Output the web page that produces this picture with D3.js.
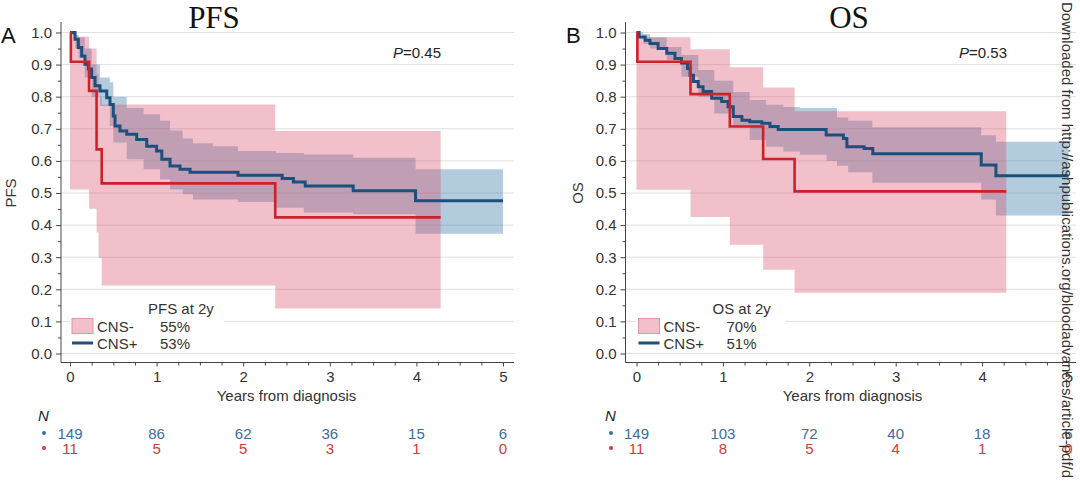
<!DOCTYPE html>
<html><head><meta charset="utf-8">
<script src="https://cdn.jsdelivr.net/npm/d3@7"></script>
<style>html,body{margin:0;padding:0;background:#fff;}svg{display:block;}</style>
</head><body>
<svg id="c" width="1080" height="487"></svg>
<script>
// ---------- DATA ----------
const xTicks = [0, 1, 2, 3, 4, 5];
const yTicks = [0, 0.1, 0.2, 0.3, 0.4, 0.5, 0.6, 0.7, 0.8, 0.9, 1.0];

// PFS (panel A)
const pfsBlueT = [0, 0.058, 0.096, 0.135, 0.173, 0.212, 0.25, 0.289, 0.346, 0.424, 0.462, 0.5, 0.52, 0.577, 0.655, 0.77, 0.886, 1.0, 1.06, 1.155, 1.27, 1.386, 1.94, 2.45, 2.58, 2.716, 3.27, 3.99];
const pfsBlueS = [1.0, 0.979, 0.953, 0.927, 0.901, 0.886, 0.86, 0.834, 0.818, 0.797, 0.776, 0.74, 0.709, 0.693, 0.683, 0.667, 0.646, 0.631, 0.605, 0.584, 0.574, 0.565, 0.555, 0.545, 0.534, 0.522, 0.507, 0.476];
const pfsBlueEnd = 5.0;
const pfsBlueBandT = [0, 0.06, 0.1, 0.17, 0.25, 0.346, 0.46, 0.5, 0.655, 0.85, 1.04, 1.155, 1.3, 1.42, 1.65, 1.94, 2.38, 2.7, 3.27, 3.99];
const pfsBlueLo   = [0.99, 0.95, 0.92, 0.86, 0.80, 0.771, 0.709, 0.657, 0.605, 0.574, 0.543, 0.511, 0.496, 0.48, 0.48, 0.472, 0.454, 0.439, 0.434, 0.373];
const pfsBlueHi   = [1.0, 0.992, 0.985, 0.95, 0.90, 0.86, 0.845, 0.80, 0.765, 0.745, 0.725, 0.695, 0.67, 0.655, 0.646, 0.631, 0.625, 0.62, 0.61, 0.574];
const pfsRedT = [0, 0.01, 0.22, 0.307, 0.366, 2.37];
const pfsRedS = [1.0, 0.909, 0.818, 0.636, 0.53, 0.424];
const pfsRedEnd = 4.28;
const pfsRedBandT = [0, 0.22, 0.307, 0.33, 0.366, 2.37];
const pfsRedLo   = [0.511, 0.451, 0.377, 0.298, 0.212, 0.14];
const pfsRedHi   = [0.987, 0.95, 0.87, 0.80, 0.776, 0.693];
const pfsRiskBlue = ["149", "86", "62", "36", "15", "6"];
const pfsRiskRed  = ["11", "5", "5", "3", "1", "0"];
const pfsLegendVals = ["55%", "53%"];

// OS (panel B)
const osBlueT = [0, 0.03, 0.1, 0.156, 0.25, 0.35, 0.445, 0.52, 0.59, 0.62, 0.66, 0.715, 0.77, 0.87, 0.986, 1.06, 1.12, 1.22, 1.31, 1.45, 1.545, 1.64, 2.195, 2.395, 2.435, 2.634, 2.735, 3.99, 4.16];
const osBlueS = [1.0, 0.986, 0.976, 0.966, 0.95, 0.935, 0.919, 0.905, 0.888, 0.867, 0.847, 0.831, 0.816, 0.795, 0.785, 0.769, 0.738, 0.727, 0.722, 0.717, 0.707, 0.698, 0.681, 0.67, 0.644, 0.639, 0.622, 0.587, 0.554];
const osBlueEnd = 5.0;
const osBlueBandT = [0, 0.08, 0.156, 0.35, 0.52, 0.715, 0.9, 1.12, 1.31, 1.5, 1.7, 1.89, 2.2, 2.32, 2.45, 2.73, 3.99, 4.16];
const osBlueLo   = [0.99, 0.965, 0.95, 0.914, 0.862, 0.80, 0.748, 0.707, 0.665, 0.644, 0.629, 0.619, 0.60, 0.585, 0.565, 0.532, 0.48, 0.43];
const osBlueHi   = [1.0, 0.995, 0.985, 0.955, 0.93, 0.883, 0.85, 0.815, 0.79, 0.775, 0.768, 0.765, 0.765, 0.735, 0.725, 0.705, 0.68, 0.66];
const osRedT = [0, 0.01, 0.625, 1.08, 1.466, 1.83];
const osRedS = [1.0, 0.909, 0.808, 0.707, 0.606, 0.505];
const osRedEnd = 4.28;
const osRedBandT = [0, 0.625, 1.08, 1.466, 1.83];
const osRedLo   = [0.51, 0.425, 0.339, 0.261, 0.189];
const osRedHi   = [0.985, 0.948, 0.892, 0.829, 0.755];
const osRiskBlue = ["149", "103", "72", "40", "18", "6"];
const osRiskRed  = ["11", "8", "5", "4", "1", "0"];
const osLegendVals = ["70%", "51%"];

// ---------- STYLE ----------
const BLUE = "#1c4f7c", RED = "#cc2229";
const BLUE_TXT = "#3a6d9e", RED_TXT = "#cf3b3b";
const FONT = "'Liberation Sans', Arial, sans-serif";
const FS = 15;
const svg = d3.select("#c");

function toPts(T, S, end) {
  const p = T.map((t, i) => ({t: t, s: S[i]}));
  p.push({t: end, s: S[S.length - 1]});
  return p;
}
function toBand(T, Lo, Hi, end) {
  const p = T.map((t, i) => ({t: t, lo: Lo[i], hi: Hi[i]}));
  p.push({t: end, lo: Lo[Lo.length - 1], hi: Hi[Hi.length - 1]});
  return p;
}

function panel(cfg) {
  const g = svg.append("g");
  const x = d3.scaleLinear().domain([0, 5]).range([cfg.x0, cfg.x5]);
  const y = d3.scaleLinear().domain([0, 1]).range([353.5, 32.5]);
  const axisY = 362.5;

  // gridlines
  g.selectAll("line.grid").data(yTicks).enter().append("line")
    .attr("x1", cfg.axisX).attr("x2", cfg.right)
    .attr("y1", d => y(d)).attr("y2", d => y(d))
    .attr("stroke", "#e0e0e0").attr("stroke-width", 1);

  // bands
  const area = d3.area().curve(d3.curveStepAfter)
    .x(d => x(d.t)).y0(d => y(d.lo)).y1(d => y(d.hi));
  g.append("path").datum(toBand(cfg.blueBandT, cfg.blueLo, cfg.blueHi, cfg.blueEnd))
    .attr("d", area).attr("fill", "rgb(63,128,173)").attr("fill-opacity", 0.4);
  g.append("path").datum(toBand(cfg.redBandT, cfg.redLo, cfg.redHi, cfg.redEnd))
    .attr("d", area).attr("fill", "rgb(218,75,104)").attr("fill-opacity", 0.35);

  // curves
  const line = d3.line().curve(d3.curveStepAfter).x(d => x(d.t)).y(d => y(d.s));
  g.append("path").datum(toPts(cfg.blueT, cfg.blueS, cfg.blueEnd))
    .attr("d", line).attr("fill", "none").attr("stroke", BLUE).attr("stroke-width", 3);
  g.append("path").datum(toPts(cfg.redT, cfg.redS, cfg.redEnd))
    .attr("d", line).attr("fill", "none").attr("stroke", RED).attr("stroke-width", 2.6);

  // y axis
  const ya = g.append("g").attr("transform", `translate(${cfg.axisX},0)`)
    .call(d3.axisLeft(y).tickValues(yTicks).tickSize(5).tickPadding(4).tickFormat(d3.format(".1f")));
  ya.select(".domain").remove();
  const yMinor = d3.range(0.05, 1.0, 0.1);
  const ym = g.append("g").attr("transform", `translate(${cfg.axisX},0)`)
    .call(d3.axisLeft(y).tickValues(yMinor).tickSize(3).tickFormat(""));
  ym.select(".domain").remove();
  g.append("line").attr("x1", cfg.axisX).attr("x2", cfg.axisX).attr("y1", 22).attr("y2", axisY)
    .attr("stroke", "#444").attr("stroke-width", 1);

  // x axis
  const xa = g.append("g").attr("transform", `translate(0,${axisY})`)
    .call(d3.axisBottom(x).tickValues(xTicks).tickSize(4).tickPadding(5).tickFormat(d3.format("d")));
  xa.select(".domain").remove();
  const xMinor = d3.range(0.25, 5, 0.25).filter(v => Math.abs(v - Math.round(v)) > 1e-6);
  const xm = g.append("g").attr("transform", `translate(0,${axisY})`)
    .call(d3.axisBottom(x).tickValues(xMinor).tickSize(3).tickFormat(""));
  xm.select(".domain").remove();
  g.append("line").attr("x1", cfg.axisX).attr("x2", cfg.right).attr("y1", axisY).attr("y2", axisY)
    .attr("stroke", "#444").attr("stroke-width", 1);

  g.selectAll(".tick text").attr("font-family", FONT).attr("font-size", FS).attr("fill", "#333");
  g.selectAll(".tick line").attr("stroke", "#444");

  // axis titles
  g.append("text").attr("x", (cfg.x0 + cfg.x5) / 2).attr("y", 400.5)
    .attr("text-anchor", "middle").attr("font-family", FONT).attr("font-size", FS).attr("fill", "#333")
    .text("Years from diagnosis");
  g.append("text").attr("transform", `translate(${cfg.yTitleX},193) rotate(-90)`)
    .attr("text-anchor", "middle").attr("font-family", FONT).attr("font-size", FS).attr("fill", "#333")
    .text(cfg.yTitle);

  // main title
  g.append("text").attr("x", cfg.titleX).attr("y", 28).attr("text-anchor", "middle")
    .attr("font-family", "'Liberation Serif', 'Times New Roman', serif").attr("font-size", 31).attr("fill", "#111")
    .text(cfg.yTitle);
  // panel letter
  g.append("text").attr("x", cfg.letterX).attr("y", 43)
    .attr("font-family", FONT).attr("font-size", 22).attr("fill", "#111").text(cfg.letter);

  // p value
  const pt = g.append("text").attr("x", cfg.pX).attr("y", 57.5)
    .attr("font-family", FONT).attr("font-size", FS).attr("fill", "#222");
  pt.append("tspan").attr("font-style", "italic").text("P");
  pt.append("tspan").text("=" + cfg.p);

  // legend
  const lx = cfg.x0;
  g.append("rect").attr("x", lx).attr("y", 297).attr("width", cfg.legendW).attr("height", 54).attr("fill", "#fff");
  g.append("text").attr("x", lx + cfg.legendHeadDx).attr("y", 313.5)
    .attr("font-family", FONT).attr("font-size", FS).attr("fill", "#333").text(cfg.yTitle + " at 2y");
  g.append("rect").attr("x", lx + 2).attr("y", 318.5).attr("width", 21).attr("height", 15)
    .attr("fill", "rgb(242,192,202)").attr("stroke", "rgb(222,150,166)").attr("stroke-width", 1);
  g.append("line").attr("x1", lx + 2).attr("x2", lx + 23).attr("y1", 343).attr("y2", 343)
    .attr("stroke", BLUE).attr("stroke-width", 3);
  const rowsY = [331.5, 348.5];
  ["CNS-", "CNS+"].forEach((lab, i) => {
    g.append("text").attr("x", lx + 27).attr("y", rowsY[i])
      .attr("font-family", FONT).attr("font-size", FS).attr("fill", "#333").text(lab);
    g.append("text").attr("x", lx + cfg.legendValDx).attr("y", rowsY[i])
      .attr("font-family", FONT).attr("font-size", FS).attr("fill", "#333").text(cfg.legendVals[i]);
  });

  // risk table
  g.append("text").attr("x", cfg.nX).attr("y", 420.5).attr("font-family", FONT).attr("font-size", FS)
    .attr("font-style", "italic").attr("fill", "#222").text("N");
  g.append("circle").attr("cx", cfg.nX + 6).attr("cy", 433).attr("r", 2).attr("fill", BLUE_TXT);
  g.append("circle").attr("cx", cfg.nX + 6).attr("cy", 448).attr("r", 2).attr("fill", RED_TXT);
  g.selectAll("text.rb").data(cfg.riskBlue).enter().append("text")
    .attr("x", (d, i) => x(xTicks[i])).attr("y", 438.5).attr("text-anchor", "middle")
    .attr("font-family", FONT).attr("font-size", FS).attr("fill", BLUE_TXT).text(d => d);
  g.selectAll("text.rr").data(cfg.riskRed).enter().append("text")
    .attr("x", (d, i) => x(xTicks[i])).attr("y", 453.5).attr("text-anchor", "middle")
    .attr("font-family", FONT).attr("font-size", FS).attr("fill", RED_TXT).text(d => d);
}

panel({
  axisX: 61, x0: 70, x5: 503, right: 514, yTitle: "PFS", yTitleX: 16, titleX: 214, letter: "A", letterX: 1,
  p: "0.45", pX: 393, legendW: 154, legendHeadDx: 78, legendValDx: 90, legendVals: pfsLegendVals, nX: 38,
  blueT: pfsBlueT, blueS: pfsBlueS, blueEnd: pfsBlueEnd,
  blueBandT: pfsBlueBandT, blueLo: pfsBlueLo, blueHi: pfsBlueHi,
  redT: pfsRedT, redS: pfsRedS, redEnd: pfsRedEnd,
  redBandT: pfsRedBandT, redLo: pfsRedLo, redHi: pfsRedHi,
  riskBlue: pfsRiskBlue, riskRed: pfsRiskRed
});
panel({
  axisX: 625.5, x0: 636.5, x5: 1068.5, right: 1076, yTitle: "OS", yTitleX: 583, titleX: 849, letter: "B", letterX: 566,
  p: "0.53", pX: 959, legendW: 149, legendHeadDx: 76, legendValDx: 90, legendVals: osLegendVals, nX: 605,
  blueT: osBlueT, blueS: osBlueS, blueEnd: osBlueEnd,
  blueBandT: osBlueBandT, blueLo: osBlueLo, blueHi: osBlueHi,
  redT: osRedT, redS: osRedS, redEnd: osRedEnd,
  redBandT: osRedBandT, redLo: osRedLo, redHi: osRedHi,
  riskBlue: osRiskBlue, riskRed: osRiskRed
});

// watermark
svg.append("text").attr("transform", "translate(1062,2) rotate(90)")
  .attr("font-family", FONT).attr("font-size", 15).attr("fill", "#333")
  .text("Downloaded from http://ashpublications.org/bloodadvances/article-pdf/d");
</script>
</body></html>
